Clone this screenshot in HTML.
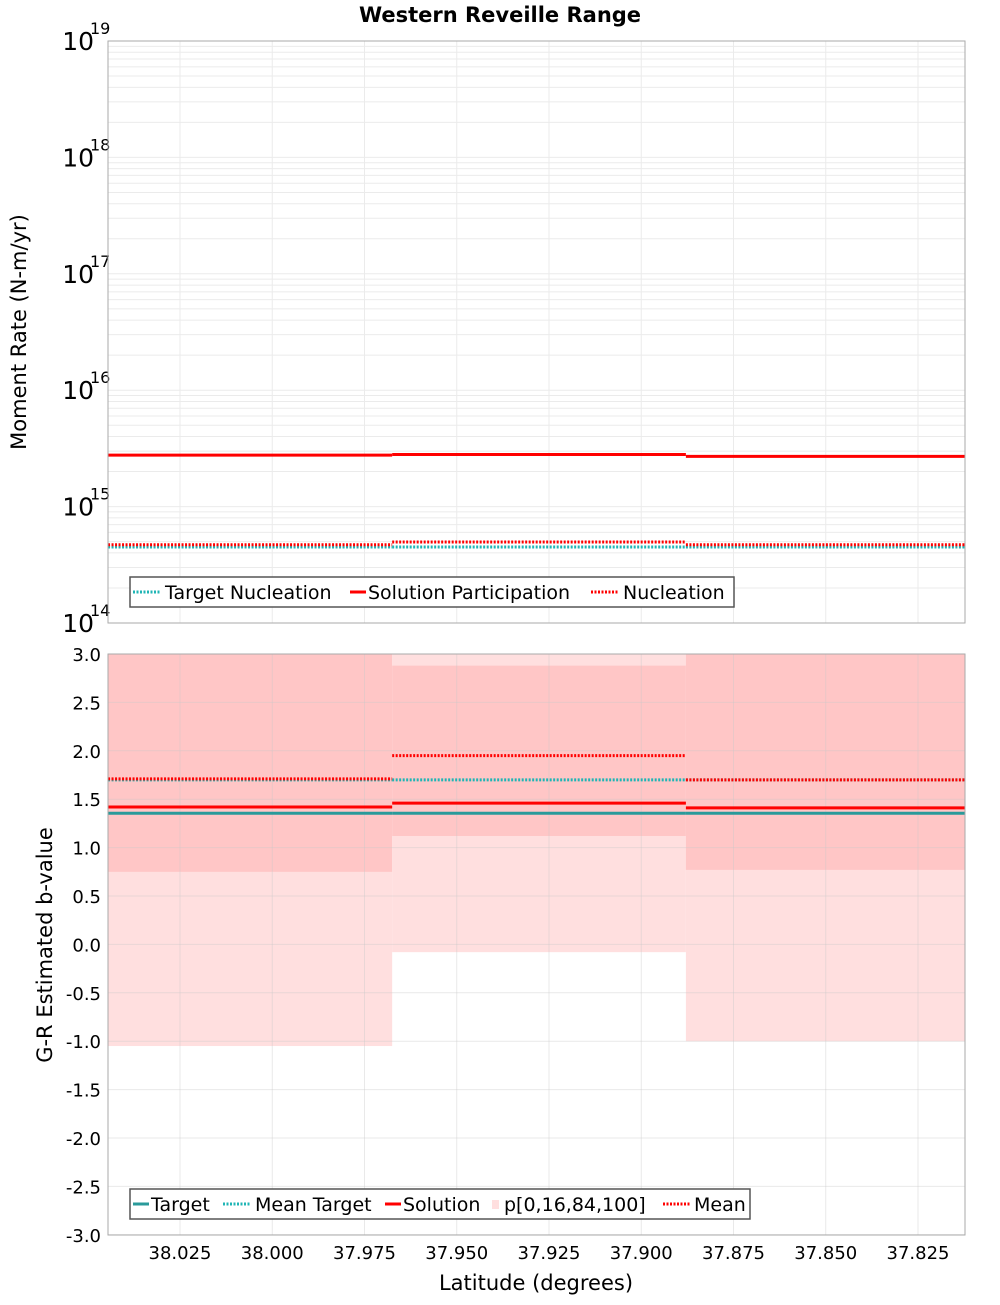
<!DOCTYPE html>
<html><head><meta charset="utf-8"><style>
body{margin:0;background:#fff;}
svg text{font-family:"DejaVu Sans","Liberation Sans",sans-serif;}
</style></head><body>
<svg id="chart" width="1000" height="1300" xmlns="http://www.w3.org/2000/svg">
<text x="500" y="22" text-anchor="middle" font-size="21" font-weight="bold">Western Reveille Range</text>
<g id="topPlot"></g>
<g id="botPlot"></g>
<text transform="translate(26,332) rotate(-90)" text-anchor="middle" font-size="21">Moment Rate (N-m/yr)</text>
<text transform="translate(52,945) rotate(-90)" text-anchor="middle" font-size="21">G-R Estimated b-value</text>
<text x="536" y="1290" text-anchor="middle" font-size="21">Latitude (degrees)</text>
</svg>
<script>
// data
const segEdges = [38.0445, 37.9675, 37.8879, 37.8123];
const xTicks = [38.025, 38.000, 37.975, 37.950, 37.925, 37.900, 37.875, 37.850, 37.825];
const topDecades = [14, 15, 16, 17, 18, 19];
const targetNucleation = [4.5e14, 4.5e14, 4.5e14];
const solutionParticipation = [2.77e15, 2.8e15, 2.7e15];
const nucleation = [4.7e14, 4.96e14, 4.7e14];
const bTicks = [3.0, 2.5, 2.0, 1.5, 1.0, 0.5, 0.0, -0.5, -1.0, -1.5, -2.0, -2.5, -3.0];
const bTarget = [1.355, 1.355, 1.355];
const bMeanTarget = [1.70, 1.70, 1.70];
const bSolution = [1.42, 1.46, 1.41];
const bMean = [1.71, 1.95, 1.70];
const p0 = [-1.05, -0.08, -1.0];
const p16 = [0.75, 1.12, 0.77];
const p84 = [3.0, 2.88, 3.0];
const p100 = [3.0, 3.0, 3.0];

const NS = 'http://www.w3.org/2000/svg';
const L = 108, R = 965;
const xs = v => 180 + (38.025 - v) / 0.025 * 92.25;
const yTop = v => 623 - (Math.log10(v) - 14) * 116.4;
const yBot = v => 654 + (3 - v) * 96.8;
function mk(p, tag, at, name) {
  const e = document.createElementNS(NS, tag);
  for (const k in at) e.setAttribute(k, at[k]);
  
  
  p.appendChild(e); return e;
}
const topG = document.getElementById('topPlot'), botG = document.getElementById('botPlot');
const T0 = 41, T1 = 623, B0 = 654, B1 = 1235;
for (let d = 14; d < 19; d++) for (let m = 1; m < 10; m++) {
  const y = yTop(m * Math.pow(10, d));
  mk(topG, 'line', {x1: L, x2: R, y1: y, y2: y, stroke: '#ebebeb', 'stroke-width': 1}, 'grid-line');
}
xTicks.forEach(t => {
  mk(topG, 'line', {x1: xs(t), x2: xs(t), y1: T0, y2: T1, stroke: '#ebebeb'}, 'grid-line');
});
for (let i = 0; i < 3; i++) {
  const x1 = xs(segEdges[i]), x2 = xs(segEdges[i + 1]);
  mk(botG, 'rect', {x: x1, y: yBot(p100[i]), width: x2 - x1, height: yBot(p0[i]) - yBot(p100[i]), fill: '#ffdfdf'}, 'p0-100-band');
  mk(botG, 'rect', {x: x1, y: yBot(p84[i]), width: x2 - x1, height: yBot(p16[i]) - yBot(p84[i]), fill: '#ffc6c6'}, 'p16-84-band');
}
bTicks.forEach(t => {
  mk(botG, 'line', {x1: L, x2: R, y1: yBot(t), y2: yBot(t), stroke: 'rgba(200,200,200,0.4)'}, 'grid-line');
  const tx = mk(botG, 'text', {x: 101, y: yBot(t) + 7, 'text-anchor': 'end', 'font-size': 18}, 'y-tick-label');
  tx.textContent = t.toFixed(1);
});
xTicks.forEach(t => {
  mk(botG, 'line', {x1: xs(t), x2: xs(t), y1: B0, y2: B1, stroke: 'rgba(200,200,200,0.4)'}, 'grid-line');
  const tx = mk(botG, 'text', {x: xs(t), y: 1259, 'text-anchor': 'middle', 'font-size': 18}, 'x-tick-label');
  tx.textContent = t.toFixed(3);
});
topDecades.forEach(d => {
  const y = yTop(Math.pow(10, d));
  const tx = mk(topG, 'text', {x: 94, y: y + 9, 'text-anchor': 'end', 'font-size': 25}, 'y-tick-label');
  tx.textContent = '10';
  const ex = mk(topG, 'text', {x: 90, y: y - 7, 'font-size': 16}, 'y-tick-exponent');
  ex.textContent = d;
});
function steps(g, arr, yf, color, dash, w, name) {
  for (let i = 0; i < 3; i++) {
    const at = {x1: xs(segEdges[i]), x2: xs(segEdges[i + 1]), y1: yf(arr[i]), y2: yf(arr[i]), stroke: color, 'stroke-width': w};
    if (dash) at['stroke-dasharray'] = '2,1.5';
    mk(g, 'line', at, name);
  }
}
steps(topG, targetNucleation, yTop, '#1fb5b5', true, 3, 'target-nucleation-line');
steps(topG, nucleation, yTop, '#ff0000', true, 3, 'nucleation-line');
steps(topG, solutionParticipation, yTop, '#ff0000', false, 3, 'solution-participation-line');
steps(botG, bTarget, yBot, '#2a9a9a', false, 3, 'target-line');
steps(botG, bMeanTarget, yBot, '#1fb5b5', true, 3, 'mean-target-line');
steps(botG, bSolution, yBot, '#ff0000', false, 3, 'solution-line');
steps(botG, bMean, yBot, '#ff0000', true, 3, 'mean-line');
mk(topG, 'rect', {x: L, y: T0, width: R - L, height: T1 - T0, fill: 'none', stroke: '#aaa'}, 'top-plot-frame');
mk(botG, 'rect', {x: L, y: B0, width: R - L, height: B1 - B0, fill: 'none', stroke: '#aaa'}, 'bottom-plot-frame');
function legend(g, x, y, w, items, name) {
  mk(g, 'rect', {x: x, y: y, width: w, height: 30, fill: '#fff', stroke: '#555', 'stroke-width': 1.5}, name);
  items.forEach(it => {
    if (it.box) mk(g, 'rect', {x: it.x + 4, y: y + 11, width: 7, height: 9, fill: '#ffdfdf'}, 'legend-swatch');
    else {
      const at = {x1: it.x, x2: it.x + 28, y1: y + 15, y2: y + 15, stroke: it.c, 'stroke-width': 3};
      if (it.d) at['stroke-dasharray'] = '2,1.5';
      if (it.short) at.x2 = it.x + 16;
      mk(g, 'line', at, 'legend-marker');
    }
    const t = mk(g, 'text', {x: it.tx, y: y + 22, 'font-size': 19}, 'legend-entry');
    t.textContent = it.t;
  });
}
legend(topG, 130, 577, 604, [
  {x: 133, c: '#1fb5b5', d: true, tx: 165, t: 'Target Nucleation'},
  {x: 350, c: '#ff0000', short: true, tx: 368, t: 'Solution Participation'},
  {x: 591, c: '#ff0000', d: true, tx: 623, t: 'Nucleation'}
], 'top-legend');
legend(botG, 130, 1189, 620, [
  {x: 133, c: '#2a9a9a', short: true, tx: 151, t: 'Target'},
  {x: 223, c: '#1fb5b5', d: true, tx: 255, t: 'Mean Target'},
  {x: 385, c: '#ff0000', short: true, tx: 403, t: 'Solution'},
  {x: 488, box: true, tx: 504, t: 'p[0,16,84,100]'},
  {x: 663, c: '#ff0000', d: true, tx: 694, t: 'Mean'}
], 'bottom-legend');
</script>
</body></html>
